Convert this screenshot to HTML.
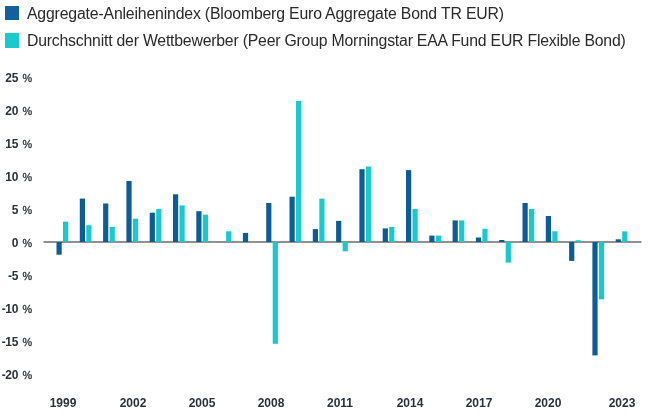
<!DOCTYPE html>
<html><head><meta charset="utf-8">
<style>
html,body{margin:0;padding:0;background:#fff;}
body{width:650px;height:414px;position:relative;overflow:hidden;font-family:"Liberation Sans",sans-serif;}
.lg,.yl,.xl{will-change:transform;}
.sq{position:absolute;left:4.9px;width:14.5px;height:14.3px;}
.lg{position:absolute;left:26.5px;font-size:15.8px;color:#2a2a2a;white-space:nowrap;line-height:18px;}
.yl{position:absolute;right:618px;width:60px;text-align:right;font-size:12px;font-weight:bold;color:#2d3138;line-height:14px;white-space:nowrap;letter-spacing:-0.3px;}
.pc{font-weight:normal;color:#2f3236;font-size:10.8px;margin-left:4.3px;letter-spacing:0;-webkit-text-stroke:0.3px #2f3236;position:relative;top:-0.4px;}
.xl{position:absolute;top:395.9px;width:60px;text-align:center;font-size:12px;letter-spacing:0;font-weight:bold;color:#2d3138;line-height:14px;}
svg{position:absolute;left:0;top:0;}
</style></head><body>
<div class="sq" style="top:5.5px;background:#13609c"></div>
<div class="lg" style="top:4.7px;letter-spacing:-0.165px">Aggregate-Anleihenindex (Bloomberg Euro Aggregate Bond TR EUR)</div>
<div class="sq" style="top:33.3px;background:#18cacd"></div>
<div class="lg" style="top:32.35px;letter-spacing:-0.205px">Durchschnitt der Wettbewerber (Peer Group Morningstar EAA Fund EUR Flexible Bond)</div>
<div class="yl" style="top:70.62px">25<span class="pc">%</span></div><div class="yl" style="top:103.65px">20<span class="pc">%</span></div><div class="yl" style="top:136.68px">15<span class="pc">%</span></div><div class="yl" style="top:169.71px">10<span class="pc">%</span></div><div class="yl" style="top:202.74px">5<span class="pc">%</span></div><div class="yl" style="top:235.77px">0<span class="pc">%</span></div><div class="yl" style="top:268.80px">-5<span class="pc">%</span></div><div class="yl" style="top:301.83px">-10<span class="pc">%</span></div><div class="yl" style="top:334.86px">-15<span class="pc">%</span></div><div class="yl" style="top:367.89px">-20<span class="pc">%</span></div>
<div class="xl" style="left:32.7px">1999</div><div class="xl" style="left:102.5px">2002</div><div class="xl" style="left:171.5px">2005</div><div class="xl" style="left:240.7px">2008</div><div class="xl" style="left:310.1px">2011</div><div class="xl" style="left:379.5px">2014</div><div class="xl" style="left:448.6px">2017</div><div class="xl" style="left:518.2px">2020</div><div class="xl" style="left:591.9px">2023</div>
<svg width="650" height="414" viewBox="0 0 650 414">
<rect x="43.5" y="241.1" width="598" height="1.8" fill="#858585"/>
<rect x="56.5" y="242.0" width="5.2" height="12.7" fill="#0e5c96"/><rect x="63.0" y="221.6" width="5.2" height="20.4" fill="#18cacd"/><rect x="79.8" y="198.6" width="5.2" height="43.4" fill="#0e5c96"/><rect x="86.3" y="225.2" width="5.2" height="16.8" fill="#18cacd"/><rect x="103.1" y="203.5" width="5.2" height="38.5" fill="#0e5c96"/><rect x="109.6" y="226.9" width="5.2" height="15.1" fill="#18cacd"/><rect x="126.4" y="181.0" width="5.2" height="61.0" fill="#0e5c96"/><rect x="132.9" y="218.7" width="5.2" height="23.3" fill="#18cacd"/><rect x="149.7" y="212.7" width="5.2" height="29.3" fill="#0e5c96"/><rect x="156.2" y="209.0" width="5.2" height="33.0" fill="#18cacd"/><rect x="173.0" y="194.3" width="5.2" height="47.7" fill="#0e5c96"/><rect x="179.5" y="205.4" width="5.2" height="36.6" fill="#18cacd"/><rect x="196.3" y="211.2" width="5.2" height="30.8" fill="#0e5c96"/><rect x="202.8" y="214.6" width="5.2" height="27.4" fill="#18cacd"/><rect x="226.1" y="231.3" width="5.2" height="10.7" fill="#18cacd"/><rect x="242.9" y="232.9" width="5.2" height="9.1" fill="#0e5c96"/><rect x="266.2" y="203.0" width="5.2" height="39.0" fill="#0e5c96"/><rect x="272.7" y="242.0" width="5.2" height="101.8" fill="#18cacd"/><rect x="289.5" y="196.7" width="5.2" height="45.3" fill="#0e5c96"/><rect x="296.0" y="100.9" width="5.2" height="141.1" fill="#18cacd"/><rect x="312.8" y="229.1" width="5.2" height="12.9" fill="#0e5c96"/><rect x="319.3" y="198.6" width="5.2" height="43.4" fill="#18cacd"/><rect x="336.1" y="220.9" width="5.2" height="21.1" fill="#0e5c96"/><rect x="342.6" y="242.0" width="5.2" height="9.3" fill="#18cacd"/><rect x="359.4" y="169.2" width="5.2" height="72.8" fill="#0e5c96"/><rect x="365.9" y="166.5" width="5.2" height="75.5" fill="#18cacd"/><rect x="382.7" y="228.4" width="5.2" height="13.6" fill="#0e5c96"/><rect x="389.2" y="226.9" width="5.2" height="15.1" fill="#18cacd"/><rect x="406.0" y="170.1" width="5.2" height="71.9" fill="#0e5c96"/><rect x="412.5" y="209.0" width="5.2" height="33.0" fill="#18cacd"/><rect x="429.3" y="235.6" width="5.2" height="6.4" fill="#0e5c96"/><rect x="435.8" y="235.6" width="5.2" height="6.4" fill="#18cacd"/><rect x="452.6" y="220.4" width="5.2" height="21.6" fill="#0e5c96"/><rect x="459.1" y="220.4" width="5.2" height="21.6" fill="#18cacd"/><rect x="475.9" y="237.5" width="5.2" height="4.5" fill="#0e5c96"/><rect x="482.4" y="228.8" width="5.2" height="13.2" fill="#18cacd"/><rect x="499.2" y="240.0" width="5.2" height="2.0" fill="#0e5c96"/><rect x="505.7" y="242.0" width="5.2" height="20.6" fill="#18cacd"/><rect x="522.5" y="203.0" width="5.2" height="39.0" fill="#0e5c96"/><rect x="529.0" y="209.0" width="5.2" height="33.0" fill="#18cacd"/><rect x="545.8" y="216.0" width="5.2" height="26.0" fill="#0e5c96"/><rect x="552.3" y="231.3" width="5.2" height="10.7" fill="#18cacd"/><rect x="569.1" y="242.0" width="5.2" height="18.9" fill="#0e5c96"/><rect x="575.6" y="240.2" width="5.2" height="1.8" fill="#18cacd"/><rect x="592.4" y="242.0" width="5.2" height="113.4" fill="#0e5c96"/><rect x="598.9" y="242.0" width="5.2" height="57.4" fill="#18cacd"/><rect x="615.7" y="239.3" width="5.2" height="2.7" fill="#0e5c96"/><rect x="622.2" y="231.4" width="5.2" height="10.6" fill="#18cacd"/>
</svg>
</body></html>
